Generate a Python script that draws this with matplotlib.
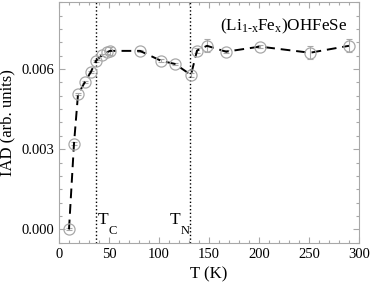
import numpy as np
import matplotlib.pyplot as plt
from matplotlib.ticker import MultipleLocator, FormatStrFormatter

plt.rcParams['font.family'] = ['Liberation Serif', 'DejaVu Serif']
plt.rcParams['mathtext.fontset'] = 'custom'
plt.rcParams['mathtext.rm'] = 'Liberation Serif'
plt.rcParams['mathtext.it'] = 'Liberation Serif:italic'

temps = [10, 15, 19, 26, 32, 37, 43, 48, 51, 81, 102, 116, 132, 138, 148, 167, 201, 251, 290]
iad = [0.0, 0.00321, 0.00505, 0.00552, 0.0059, 0.00631, 0.00652, 0.00663, 0.00668,
       0.00668, 0.00631, 0.00619, 0.00578, 0.00669, 0.00687, 0.00665, 0.00684, 0.00661, 0.00687]
err = [0.00003, 0.00004, 0.00004, 0.00004, 0.00004, 0.00004, 0.00005, 0.00006, 0.00014,
       0.00005, 0.00005, 0.00005, 0.00008, 0.00008, 0.00025, 0.00006, 0.00006, 0.00025, 0.00025]
t_c = 37
t_n = 131

fig = plt.figure(figsize=(3.72, 2.90), dpi=100)
ax = fig.add_axes([0.1586, 0.162, 0.8064, 0.832])

gray = '#a8a8a8'
ax.errorbar(temps, iad, yerr=err, fmt='none', ecolor=gray, elinewidth=0.8, capsize=2.5, capthick=0.8, zorder=2)
ax.plot(temps, iad, color='black', ls=(0, (5, 3)), lw=1.4, zorder=3)
ax.plot(temps, iad, ls='none', marker='o', ms=8, mfc='none', mec=gray, mew=0.9, zorder=4)

ax.axvline(t_c, color='black', ls=':', lw=1.0)
ax.axvline(t_n, color='black', ls=':', lw=1.0)

# T_C and T_N labels, subscript set lower like the original
ax.text(39, 0.00019, 'T', fontsize=12.5)
ax.text(49.5, -0.00019, 'C', fontsize=9)
ax.text(111, 0.00019, 'T', fontsize=12.5)
ax.text(122, -0.00019, 'N', fontsize=9)
ax.text(161, 0.00746, r'(Li$_{\mathrm{1\text{-}x}}$Fe$_{\mathrm{x}}$)OHFeSe', fontsize=12.3)

ax.set_xlim(0, 300)
ax.set_ylim(-0.000514, 0.00852)
ax.xaxis.set_major_locator(MultipleLocator(50))
ax.xaxis.set_minor_locator(MultipleLocator(10))
ax.yaxis.set_major_locator(MultipleLocator(0.003))
ax.yaxis.set_minor_locator(MultipleLocator(0.0005))
ax.yaxis.set_major_formatter(FormatStrFormatter('%.3f'))

ax.tick_params(which='both', direction='in', top=True, right=True, color=gray, labelsize=10.5)
ax.tick_params(which='major', length=4.5, width=0.8)
ax.tick_params(which='minor', length=2.5, width=0.8)
for s in ax.spines.values():
    s.set_color(gray)

ax.set_xlabel('T (K)', fontsize=12)
ax.set_ylabel('IAD (arb. units)', fontsize=12)

fig.savefig('out.png', dpi=100)
